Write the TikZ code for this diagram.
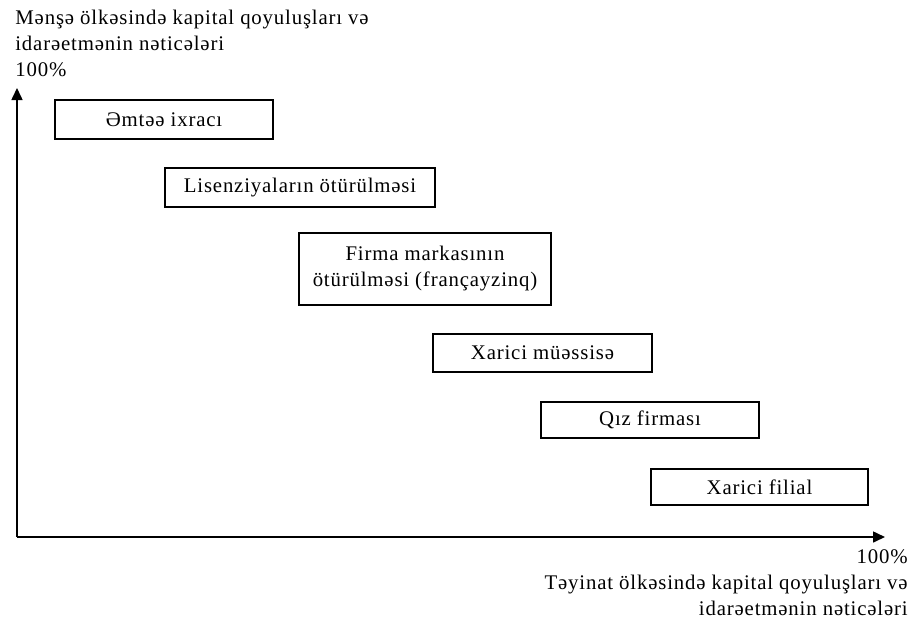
\documentclass[tikz,border=0pt]{standalone}
\usepackage{fontspec}
\setmainfont[LetterSpace=4]{Liberation Serif}
\usetikzlibrary{arrows.meta}

\tikzset{
  stage/.style={draw, line width=0.7pt, inner sep=0pt, align=center,
    font=\fontsize{10.4}{13}\selectfont},
  axislabel/.style={inner sep=0pt, font=\fontsize{10.4}{13}\selectfont},
  axis/.style={line width=0.8pt, -{Triangle[length=6pt,width=5.5pt]}}
}

\begin{document}
\begin{tikzpicture}[x=0.5pt, y=-0.5pt]
  \useasboundingbox (0,0) rectangle (912,617);
  % axes
  \coordinate (O) at (17,537);
  \coordinate (ytip) at (17,88);
  \coordinate (xtip) at (885,537);
  \draw[axis] (O) -- (ytip);
  \draw[axis] (O) -- (xtip);
  \node[axislabel, anchor=north west, align=left] (ylab) at (15,10)
       {Mənşə ölkəsində kapital qoyuluşları və\\idarəetmənin nəticələri\\100\%};
  \node[axislabel, anchor=north east, align=right] (xlab) at (908,549)
       {100\%\\Təyinat ölkəsində kapital qoyuluşları və\\idarəetmənin nəticələri};
  % stages
  \node[stage, minimum width=109pt, minimum height=19.5pt] (export) at (164,119.5) {Əmtəə ixracı};
  \node[stage, minimum width=135pt, minimum height=19.5pt] (licence) at (300,187.5) {Lisenziyaların ötürülməsi};
  \node[stage, minimum width=126pt, minimum height=36pt] (franchise) at (425,269)
       {Firma markasının\\ötürülməsi (françayzinq)};
  \node[stage, minimum width=109.5pt, minimum height=19pt] (venture) at (542.5,353) {Xarici müəssisə};
  \node[stage, minimum width=109pt, minimum height=18pt] (daughter) at (650,420) {Qız firması};
  \node[stage, minimum width=108.5pt, minimum height=18pt] (branch) at (759.5,487) {Xarici filial};
\end{tikzpicture}
\end{document}
